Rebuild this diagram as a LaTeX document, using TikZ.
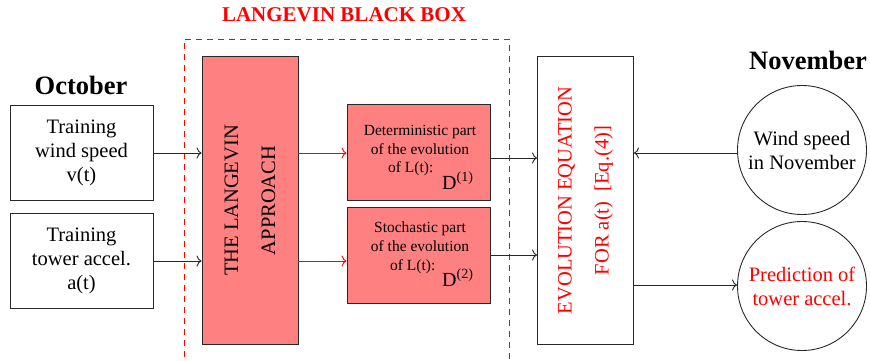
\documentclass[tikz,border=0pt]{standalone}
\usepackage{fontspec}
\setmainfont{Liberation Serif}
\usetikzlibrary{arrows.meta}
\definecolor{boxred}{RGB}{255,128,128}
\definecolor{edge}{RGB}{40,40,40}
\tikzset{
  inbox/.style={draw=edge, line width=0.9pt, rectangle, minimum width=143pt, minimum height=95pt,
    align=center, inner sep=0pt, font=\fontsize{20.5}{24}\selectfont},
  tallbox/.style={draw=edge, line width=0.9pt, rectangle, minimum width=96pt, minimum height=288pt, inner sep=0pt},
  dbox/.style={draw=edge, line width=0.9pt, fill=boxred, rectangle, minimum width=143pt, minimum height=96pt, inner sep=0pt},
  dtext/.style={align=center, inner sep=0pt, font=\fontsize{15.5}{19}\selectfont},
  rotlabel/.style={rotate=90, align=center, inner sep=0pt, font=\fontsize{20.5}{37}\selectfont},
  roundnode/.style={draw=edge, line width=0.9pt, circle, minimum size=129pt, inner sep=0pt,
    align=center, font=\fontsize{20.5}{24}\selectfont},
  heading/.style={inner sep=0pt, font=\fontsize{26.5}{30}\selectfont\bfseries},
  link/.style={draw=edge, line width=0.9pt, -{To[length=5pt,width=11pt]}},
  redlink/.style={draw=red, line width=0.9pt, -{To[length=5pt,width=11pt]}},
}
\begin{document}
\begin{tikzpicture}[x=1pt,y=-1pt]
\useasboundingbox (0,0) rectangle (870,360);

% black box frame and its title
\node[inner sep=0pt, text=red, font=\fontsize{21}{25}\selectfont\bfseries] (bbtitle) at (344,15) {LANGEVIN BLACK BOX};
\draw[red, line width=0.9pt, dash pattern=on 6pt off 5pt] (184,368) -- (184,39) -- (509,39) -- (509,368);

% headings
\node[heading] (oct) at (81,85) {October};
\node[heading] (nov) at (808,60) {November};

% training inputs
\node[inbox] (wind) at (81.5,152.5) {Training\\wind speed\\v(t)};
\node[inbox] (acc) at (81.5,260.5) {Training\\tower accel.\\a(t)};

% Langevin approach
\node[tallbox, fill=boxred] (lang) at (250,200.5) {};
\node[rotlabel] (langtext) at (lang.center) {THE LANGEVIN\\APPROACH};

% drift and diffusion boxes
\node[dbox] (d1) at (418.5,152.5) {};
\node[dtext] (d1a) at (420,140) {Deterministic part\\of the evolution};
\node[inner sep=0pt, font=\fontsize{15.5}{19}\selectfont, anchor=base west] (d1b) at (388,172) {of L(t):};
\node[inner sep=0pt, font=\fontsize{20}{24}\selectfont, anchor=base west] (d1c) at (442,189) {D$^{\mbox{\fontsize{14}{16}\selectfont(1)}}$};

\node[dbox] (d2) at (418.5,255) {};
\node[dtext] (d2a) at (420,237) {Stochastic part\\of the evolution};
\node[inner sep=0pt, font=\fontsize{15.5}{19}\selectfont, anchor=base west] (d2b) at (390,270) {of L(t):};
\node[inner sep=0pt, font=\fontsize{20}{24}\selectfont, anchor=base west] (d2c) at (442,286) {D$^{\mbox{\fontsize{14}{16}\selectfont(2)}}$};

% evolution equation
\node[tallbox] (evo) at (585.5,200.5) {};
\node[rotlabel, text=red] (evotext) at (evo.center) {EVOLUTION EQUATION\\FOR a(t)~~[Eq.(4)]};

% November circles
\node[roundnode] (nwind) at (802,150) {Wind speed\\in November};
\node[roundnode, text=red] (pred) at (802,286) {Prediction of\\tower accel.};

% connectors
\coordinate (y1) at (0,153);
\coordinate (y2) at (0,261);
\draw[link] (wind.east |- y1) -- (lang.west |- y1);
\draw[link] (acc.east |- y2) -- (lang.west |- y2);
\draw[redlink] (lang.east |- y1) -- (d1.west |- y1);
\draw[redlink] (lang.east |- y2) -- (d2.west |- y2);
\coordinate (y3) at (0,158);
\draw[link] (d1.east |- y3) -- (evo.west |- y3);
\draw[link] (d2.east) -- (evo.west |- d2.east);
\draw[link] (nwind.west |- y1) -- (evo.east |- y1);
\coordinate (y4) at (0,285);
\draw[link] (evo.east |- y4) -- (pred.west |- y4);
\end{tikzpicture}
\end{document}
